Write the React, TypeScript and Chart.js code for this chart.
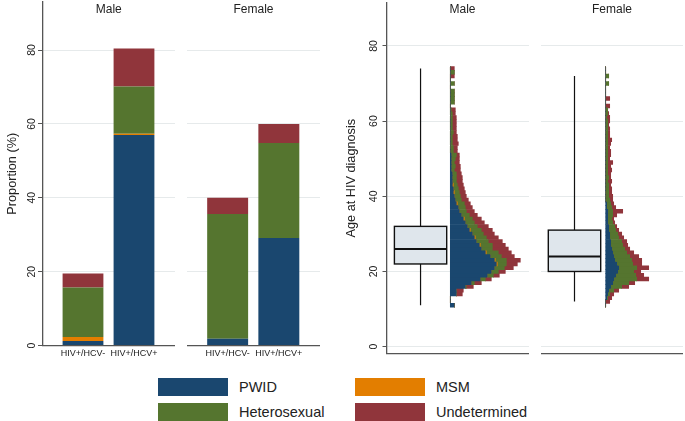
import React, { useEffect, useRef } from 'react';
import { Chart, registerables } from 'chart.js';

Chart.register(...registerables);

const FONT = '"Liberation Sans", Arial, Helvetica, sans-serif';

// ---------- data ----------
const groups = ['PWID', 'MSM', 'Heterosexual', 'Undetermined'];
const groupColors = ['#1a476f', '#e37e00', '#55752f', '#90353b'];
const hcvCategories = ['HIV+/HCV-', 'HIV+/HCV+'];
const sexes = ['Male', 'Female'];
const proportionTicks = [0, 20, 40, 60, 80];
const ageTicks = [0, 20, 40, 60, 80];

// proportions (%) by HCV status
const malePWID = [1.2, 57.0];
const maleMSM = [1.1, 0.3];
const maleHetero = [13.4, 12.8];
const maleUndet = [3.8, 10.3];
const femalePWID = [1.8, 29.1];
const femaleMSM = [0, 0];
const femaleHetero = [33.8, 25.7];
const femaleUndet = [4.4, 5.2];

// box plot stats of age at HIV diagnosis: [min, q1, median, q3, max]
const maleAgeBox = [11, 22, 26, 32, 74];
const femaleAgeBox = [12, 20, 24, 31, 72];

// histogram bins (age in years)
const ageBins = [
  11, 12, 13, 14, 15, 16, 17, 18, 19, 20,
  21, 22, 23, 24, 25, 26, 27, 28, 29, 30,
  31, 32, 33, 34, 35, 36, 37, 38, 39, 40,
  41, 42, 43, 44, 45, 46, 47, 48, 49, 50,
  51, 52, 53, 54, 55, 56, 57, 58, 59, 60,
  61, 62, 63, 64, 65, 66, 67, 68, 69, 70,
  71, 72, 73, 74,
];

const maleHistPWID = [
  4, 0, 0, 6, 6, 15, 21, 30, 37, 41,
  44, 46, 44, 40, 35, 31, 29, 26, 24, 22,
  19, 17, 15, 13, 11, 9, 8, 6, 5, 4,
  3, 3, 2, 2, 2, 2, 1, 1, 1, 1,
  1, 0, 0, 0, 0, 0, 0, 0, 0, 0,
  0, 0, 0, 0, 0, 0, 0, 0, 0, 0,
  0, 0, 0, 0,
];
const maleHistMSM = [
  0, 0, 0, 0, 0, 0, 0, 0, 0, 0,
  0, 1, 1, 0, 1, 0, 1, 0, 1, 0,
  1, 0, 0, 1, 0, 0, 0, 1, 0, 0,
  1, 0, 1, 0, 0, 0, 0, 0, 0, 0,
  0, 0, 0, 0, 0, 0, 0, 0, 0, 0,
  0, 0, 0, 0, 0, 0, 0, 0, 0, 0,
  0, 0, 0, 0,
];
const maleHistHetero = [
  0, 0, 0, 0, 0, 1, 3, 5, 6, 7,
  10, 9, 11, 11, 12, 11, 12, 12, 11, 11,
  11, 10, 9, 8, 8, 7, 7, 7, 6, 6,
  5, 5, 4, 4, 4, 4, 3, 4, 3, 4,
  5, 3, 3, 2, 2, 2, 3, 2, 2, 2,
  2, 2, 1, 0, 4, 4, 4, 4, 0, 4,
  0, 0, 4, 0,
];
const maleHistUndet = [
  0, 0, 0, 6, 7, 7, 7, 6, 6, 7,
  9, 11, 14, 13, 13, 16, 13, 14, 12, 11,
  11, 11, 10, 9, 8, 8, 7, 6, 7, 6,
  6, 6, 6, 6, 6, 5, 6, 5, 5, 4,
  3, 4, 4, 6, 5, 5, 3, 4, 4, 4,
  4, 3, 4, 0, 0, 0, 0, 0, 0, 0,
  0, 4, 0, 4,
];

const femaleHistPWID = [
  0, 0, 1, 2, 3, 5, 7, 8, 10, 12,
  13, 11, 9, 8, 7, 6, 5, 5, 4, 4,
  3, 3, 2, 2, 2, 2, 1, 1, 0, 0,
  0, 0, 0, 0, 0, 0, 0, 0, 0, 0,
  0, 0, 0, 0, 0, 0, 0, 0, 0, 0,
  0, 0, 0, 0, 0, 0, 0, 0, 0, 0,
  0, 0, 0, 0,
];
const femaleHistMSM = [
  0, 0, 0, 0, 0, 0, 0, 0, 0, 0,
  0, 0, 0, 0, 0, 0, 0, 0, 0, 0,
  0, 0, 0, 0, 0, 0, 0, 0, 0, 0,
  0, 0, 0, 0, 0, 0, 0, 0, 0, 0,
  0, 0, 0, 0, 0, 0, 0, 0, 0, 0,
  0, 0, 0, 0, 0, 0, 0, 0, 0, 0,
  0, 0, 0, 0,
];
const femaleHistHetero = [
  0, 0, 1, 2, 5, 11, 16, 23, 20, 16,
  18, 16, 17, 16, 14, 13, 12, 11, 9, 8,
  7, 6, 5, 4, 5, 5, 5, 4, 4, 3,
  3, 3, 3, 2, 3, 2, 2, 2, 2, 2,
  2, 2, 2, 2, 2, 2, 2, 2, 2, 2,
  1, 2, 2, 0, 0, 0, 0, 0, 0, 3,
  0, 3, 0, 0,
];
const femaleHistUndet = [
  0, 4, 4, 4, 5, 7, 6, 12, 8, 7,
  12, 9, 10, 9, 7, 5, 5, 5, 5, 4,
  3, 2, 2, 2, 4, 10, 4, 3, 3, 4,
  3, 3, 2, 4, 2, 3, 4, 3, 5, 2,
  3, 3, 2, 3, 4, 2, 2, 2, 1, 2,
  3, 1, 0, 4, 0, 4, 0, 0, 0, 0,
  0, 0, 0, 0,
];

// ---------- styles ----------
const TEXT = '#222222';
const AXIS = '#555555';
const GRID = '#e6eaeb';
const BOX_FILL = '#dfe6ec';

function makeFacetTitle(text: string, dx: number, y: number) {
  return {
    id: 'facetTitle',
    afterDraw(chart: any) {
      const { ctx, chartArea } = chart;
      ctx.save();
      ctx.font = `12px ${FONT}`;
      ctx.fillStyle = TEXT;
      ctx.textAlign = 'center';
      ctx.textBaseline = 'middle';
      ctx.fillText(text, (chartArea.left + chartArea.right) / 2 + dx, y);
      ctx.restore();
    },
  };
}

function makeBoxPlot(stats: number[], from: number, to: number) {
  return {
    id: 'boxPlot',
    beforeDatasetsDraw(chart: any) {
      const { ctx } = chart;
      const xs = chart.scales.x;
      const ys = chart.scales.y;
      const [mn, q1, med, q3, mx] = stats;
      const xl = xs.getPixelForValue(from);
      const xr = xs.getPixelForValue(to);
      const xc = (xl + xr) / 2;
      const yMin = ys.getPixelForValue(mn);
      const yQ1 = ys.getPixelForValue(q1);
      const yMed = ys.getPixelForValue(med);
      const yQ3 = ys.getPixelForValue(q3);
      const yMax = ys.getPixelForValue(mx);
      ctx.save();
      ctx.strokeStyle = '#111111';
      ctx.lineWidth = 1.2;
      ctx.beginPath();
      ctx.moveTo(xc, yMin);
      ctx.lineTo(xc, yQ1);
      ctx.moveTo(xc, yQ3);
      ctx.lineTo(xc, yMax);
      ctx.stroke();
      ctx.fillStyle = BOX_FILL;
      ctx.fillRect(xl, yQ3, xr - xl, yQ1 - yQ3);
      ctx.lineWidth = 1.4;
      ctx.strokeRect(xl, yQ3, xr - xl, yQ1 - yQ3);
      ctx.lineWidth = 2;
      ctx.beginPath();
      ctx.moveTo(xl, yMed);
      ctx.lineTo(xr, yMed);
      ctx.stroke();
      ctx.restore();
    },
  };
}

function barConfig(sexIndex: number, showAxis: boolean, axisWidth: number) {
  const series = sexIndex === 0
    ? [malePWID, maleMSM, maleHetero, maleUndet]
    : [femalePWID, femaleMSM, femaleHetero, femaleUndet];
  return {
    type: 'bar',
    data: {
      datasets: groups.map((g, i) => ({
        label: g,
        data: series[i].map((v, j) => ({ x: j + 1, y: v })),
        backgroundColor: groupColors[i],
        borderWidth: 0,
        barPercentage: 0.8,
        categoryPercentage: 1,
      })),
    },
    options: {
      responsive: false,
      animation: false,
      devicePixelRatio: 1,
      layout: { padding: { top: 2, left: 0, right: 0, bottom: 0 }, autoPadding: false },
      plugins: { legend: { display: false }, tooltip: { enabled: false } },
      scales: {
        x: {
          type: 'linear',
          offset: false,
          min: 0.206,
          max: 2.804,
          stacked: true,
          afterBuildTicks: (s: any) => {
            s.ticks = hcvCategories.map((_, i) => ({ value: i + 1 }));
          },
          afterFit: (s: any) => { s.height = 19.5; },
          ticks: {
            callback: (_v: any, i: number) => hcvCategories[i],
            font: { family: FONT, size: 9 },
            color: TEXT,
            padding: 2.5,
            autoSkip: false,
            maxRotation: 0,
          },
          grid: { display: false, drawTicks: false, offset: false },
          border: { display: true, color: AXIS, width: 1.3, z: 1 },
        },
        y: {
          type: 'linear',
          min: 0,
          max: 93,
          stacked: true,
          afterBuildTicks: (s: any) => {
            s.ticks = proportionTicks.map((v) => ({ value: v }));
          },
          afterFit: (s: any) => { s.width = axisWidth; },
          ticks: {
            display: showAxis,
            minRotation: 90,
            maxRotation: 90,
            crossAlign: 'center',
            padding: 0.5,
            font: { family: FONT, size: 10.5, lineHeight: 0.01 },
            color: TEXT,
          },
          grid: { color: GRID, lineWidth: 1, drawTicks: showAxis, tickLength: 4.5, tickColor: AXIS },
          border: { display: showAxis, color: AXIS, width: 1.3 },
          title: {
            display: showAxis,
            text: 'Proportion (%)',
            font: { family: FONT, size: 12.7 },
            color: TEXT,
            padding: { top: 4.4, bottom: 0 },
          },
        },
      },
    },
    plugins: [makeFacetTitle(sexes[sexIndex], 0, 10)],
  };
}

function histConfig(
  sexIndex: number,
  showAxis: boolean,
  axisWidth: number,
  xMin: number,
  xMax: number,
  boxFrom: number,
  boxTo: number,
  titleDx: number,
) {
  const series = sexIndex === 0
    ? [maleHistPWID, maleHistMSM, maleHistHetero, maleHistUndet]
    : [femaleHistPWID, femaleHistMSM, femaleHistHetero, femaleHistUndet];
  const box = sexIndex === 0 ? maleAgeBox : femaleAgeBox;
  return {
    type: 'bar',
    data: {
      datasets: groups.map((g, i) => ({
        label: g,
        data: series[i].map((v, j) => ({ x: v, y: ageBins[j] })),
        backgroundColor: groupColors[i],
        borderWidth: 0,
        barPercentage: 1,
        categoryPercentage: 1,
      })),
    },
    options: {
      indexAxis: 'y',
      responsive: false,
      animation: false,
      devicePixelRatio: 1,
      layout: { padding: { top: 3, left: 0, right: 0, bottom: 0 }, autoPadding: false },
      plugins: { legend: { display: false }, tooltip: { enabled: false } },
      scales: {
        x: {
          type: 'linear',
          min: xMin,
          max: xMax,
          stacked: true,
          afterFit: (s: any) => { s.height = 11.7; },
          ticks: { display: false },
          grid: { display: false, drawTicks: false },
          border: { display: true, color: AXIS, width: 1.3, z: 1 },
        },
        y: {
          type: 'linear',
          offset: false,
          min: -1.76,
          max: 91.4,
          stacked: true,
          afterBuildTicks: (s: any) => {
            s.ticks = ageTicks.map((v) => ({ value: v }));
          },
          afterFit: (s: any) => { s.width = axisWidth; },
          ticks: {
            display: showAxis,
            minRotation: 90,
            maxRotation: 90,
            crossAlign: 'center',
            padding: 3,
            font: { family: FONT, size: 10.5, lineHeight: 0.01 },
            color: TEXT,
          },
          grid: { color: GRID, lineWidth: 1, drawTicks: showAxis, tickLength: 4.5, tickColor: AXIS, offset: false },
          border: { display: showAxis, color: AXIS, width: 1.3 },
          title: {
            display: showAxis,
            text: 'Age at HIV diagnosis',
            font: { family: FONT, size: 12.7 },
            color: TEXT,
            padding: { top: 4.1, bottom: 0 },
          },
        },
      },
    },
    plugins: [makeFacetTitle(sexes[sexIndex], titleDx, 9.5), makeBoxPlot(box, boxFrom, boxTo)],
  };
}

function ChartCanvas(props: { make: () => any; left: number; top: number; width: number; height: number }) {
  const { make, left, top, width, height } = props;
  const ref = useRef<HTMLCanvasElement>(null);
  useEffect(() => {
    const chart = new Chart(ref.current as HTMLCanvasElement, make());
    return () => chart.destroy();
  }, []);
  return (
    <canvas
      ref={ref}
      width={width}
      height={height}
      style={{ position: 'absolute', left, top, width, height, display: 'block' }}
    />
  );
}

function Legend() {
  const colX = [158, 355];
  const rowY = [378, 403];
  return (
    <>
      {groups.map((g, i) => {
        const col = i % 2;
        const row = Math.floor(i / 2);
        return (
          <div
            key={g}
            style={{
              position: 'absolute',
              left: colX[col],
              top: rowY[row],
              height: 18,
              display: 'flex',
              alignItems: 'center',
              whiteSpace: 'nowrap',
            }}
          >
            <div style={{ width: 70, height: 18, background: groupColors[i], boxSizing: 'border-box' }} />
            <span style={{ marginLeft: 11, fontFamily: FONT, fontSize: 14.5, color: TEXT, lineHeight: '18px' }}>
              {g}
            </span>
          </div>
        );
      })}
    </>
  );
}

export default function App() {
  return (
    <div
      style={{
        position: 'fixed',
        left: 0,
        top: 0,
        width: 685,
        height: 421,
        background: '#ffffff',
        overflow: 'hidden',
      }}
    >
      <ChartCanvas make={() => barConfig(0, true, 42.5)} left={0} top={0} width={175} height={365} />
      <ChartCanvas make={() => barConfig(1, false, 0)} left={187} top={0} width={133} height={365} />
      <ChartCanvas
        make={() => histConfig(0, true, 47, -63.3, 78.7, -55.9, -3.6, 4.5)}
        left={340}
        top={0}
        width={189}
        height={365}
      />
      <ChartCanvas
        make={() => histConfig(1, false, 0, -64.7, 77.3, -57.4, -5.0, 0)}
        left={541}
        top={0}
        width={142}
        height={365}
      />
      <Legend />
    </div>
  );
}
